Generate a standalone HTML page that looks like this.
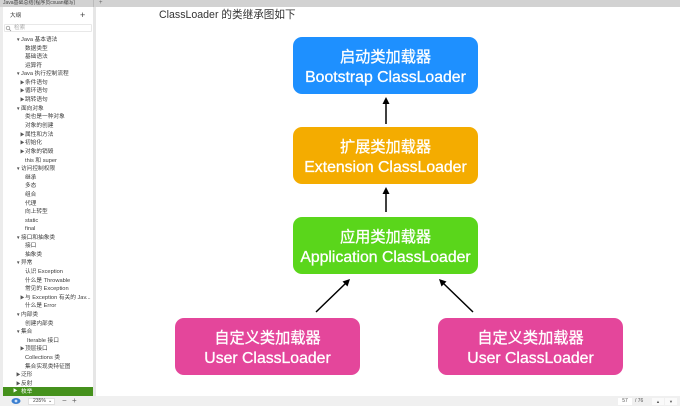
<!DOCTYPE html>
<html>
<head>
<meta charset="utf-8">
<style>
html,body{margin:0;padding:0;width:680px;height:406px;overflow:hidden;background:#fff;font-family:"Liberation Sans","Noto Sans CJK SC",sans-serif}
div{position:absolute;box-sizing:border-box}
.tab{left:0;top:0;width:680px;height:7px;background:#d2d2d2}
.side{left:0;top:7px;width:93px;height:389px;background:#fff;border-left:3px solid #ececec}
.rail{left:93px;top:7px;width:3px;height:389px;background:#e6e6e6}
.i{font-size:5.7px;line-height:8px;height:8px;white-space:nowrap;color:#3c3c3c}
.t{font-size:4.5px;color:#555;line-height:8px;height:8px}
.box{width:185px;height:57px;border-radius:9px;color:#fff;text-align:center}
.box .a{left:0;width:100%;top:11px;font-size:15.2px;line-height:20px;font-weight:400;-webkit-text-stroke:.3px #fff}
.box .b{left:0;width:100%;top:31px;font-size:15.8px;line-height:20px;font-weight:400;-webkit-text-stroke:.3px #fff}
.bar{left:0;top:396px;width:680px;height:10px;background:#f0f0f0}
</style>
</head>
<body>
<div class="tab"></div>
<div style="left:3px;top:0;font-size:5px;line-height:7px;color:#444;white-space:nowrap">Java基础总结(程序员cxuan编写)</div>
<div style="left:93px;top:0;width:1px;height:7px;background:#bbb"></div>
<div style="left:99px;top:0;font-size:6px;line-height:6px;color:#666">+</div>
<div class="side"></div>
<div class="rail"></div>
<div style="left:10px;top:12px;font-size:5.6px;line-height:8px;color:#333">大纲</div>
<div style="left:80px;top:10px;font-size:9px;line-height:10px;color:#444">+</div>
<div style="left:4px;top:24px;width:88px;height:8px;background:#fff;border:1px solid #e8e8e8;border-radius:1px"></div>
<div style="left:14px;top:24px;font-size:5.6px;line-height:8px;color:#aaa">检索</div>
<svg style="position:absolute;left:5px;top:25px" width="7" height="7"><circle cx="3" cy="3" r="1.8" fill="none" stroke="#888" stroke-width=".7"/><line x1="4.4" y1="4.4" x2="6" y2="6" stroke="#888" stroke-width=".7"/></svg>

<div style="left:0;top:1px;width:93px;height:386px">
<div class="t" style="left:16px;top:35px">▼</div><div class="i" style="left:21px;top:35px">Java 基本语法</div>
<div class="i" style="left:25px;top:43.5px">数据类型</div>
<div class="i" style="left:25px;top:52px">基础语法</div>
<div class="i" style="left:25px;top:60.5px">运算符</div>
<div class="t" style="left:16px;top:69px">▼</div><div class="i" style="left:21px;top:69px">Java 执行控制流程</div>
<div class="t" style="left:20px;top:78px">▶</div><div class="i" style="left:25px;top:78px">条件语句</div>
<div class="t" style="left:20px;top:86px">▶</div><div class="i" style="left:25px;top:86px">循环语句</div>
<div class="t" style="left:20px;top:95px">▶</div><div class="i" style="left:25px;top:95px">跳转语句</div>
<div class="t" style="left:16px;top:103.5px">▼</div><div class="i" style="left:21px;top:103.5px">面向对象</div>
<div class="i" style="left:25px;top:112px">类也是一种对象</div>
<div class="i" style="left:25px;top:121px">对象的创建</div>
<div class="t" style="left:20px;top:129.5px">▶</div><div class="i" style="left:25px;top:129.5px">属性和方法</div>
<div class="t" style="left:20px;top:138px">▶</div><div class="i" style="left:25px;top:138px">初始化</div>
<div class="t" style="left:20px;top:147px">▶</div><div class="i" style="left:25px;top:147px">对象的销毁</div>
<div class="i" style="left:25px;top:155.5px">this 和 super</div>
<div class="t" style="left:16px;top:164px">▼</div><div class="i" style="left:21px;top:164px">访问控制权限</div>
<div class="i" style="left:25px;top:172.5px">继承</div>
<div class="i" style="left:25px;top:181px">多态</div>
<div class="i" style="left:25px;top:189.5px">组合</div>
<div class="i" style="left:25px;top:198.5px">代理</div>
<div class="i" style="left:25px;top:207px">向上转型</div>
<div class="i" style="left:25px;top:215.5px">static</div>
<div class="i" style="left:25px;top:224px">final</div>
<div class="t" style="left:16px;top:233px">▼</div><div class="i" style="left:21px;top:233px">接口和抽象类</div>
<div class="i" style="left:25px;top:241px">接口</div>
<div class="i" style="left:25px;top:250px">抽象类</div>
<div class="t" style="left:16px;top:258px">▼</div><div class="i" style="left:21px;top:258px">异常</div>
<div class="i" style="left:25px;top:267px">认识 Exception</div>
<div class="i" style="left:25px;top:275.5px">什么是 Throwable</div>
<div class="i" style="left:25px;top:284px">常见的 Exception</div>
<div class="t" style="left:20px;top:293px">▶</div><div class="i" style="left:25px;top:293px">与 Exception 有关的 Jav...</div>
<div class="i" style="left:25px;top:301px">什么是 Error</div>
<div class="t" style="left:16px;top:310px">▼</div><div class="i" style="left:21px;top:310px">内部类</div>
<div class="i" style="left:25px;top:318.5px">创建内部类</div>
<div class="t" style="left:16px;top:327px">▼</div><div class="i" style="left:21px;top:327px">集合</div>
<div class="i" style="left:27px;top:336px">Iterable 接口</div>
<div class="t" style="left:20px;top:344px">▶</div><div class="i" style="left:25px;top:344px">顶层接口</div>
<div class="i" style="left:25px;top:353px">Collections 类</div>
<div class="i" style="left:25px;top:361.5px">集合实现类特征图</div>
<div class="t" style="left:16px;top:370px">▶</div><div class="i" style="left:21px;top:370px">泛形</div>
<div class="t" style="left:16px;top:378.5px">▶</div><div class="i" style="left:21px;top:378.5px">反射</div>
</div>
<div style="left:3px;top:387px;width:90px;height:9px;background:#45911c"></div>
<div class="t" style="left:13px;top:387px;color:#fff">▶</div><div class="i" style="left:21px;top:387.5px;color:#fff">枚举</div>

<div style="left:159px;top:8px;font-size:10.6px;line-height:14px;color:#333;white-space:nowrap">ClassLoader 的类继承图如下</div>

<div class="box" style="left:293px;top:37px;background:#1e90ff"><div class="a">启动类加载器</div><div class="b">Bootstrap ClassLoader</div></div>
<div class="box" style="left:293px;top:127px;background:#f4ac00"><div class="a">扩展类加载器</div><div class="b">Extension ClassLoader</div></div>
<div class="box" style="left:293px;top:217px;background:#5ad61b"><div class="a">应用类加载器</div><div class="b">Application ClassLoader</div></div>
<div class="box" style="left:175px;top:318px;background:#e4469b"><div class="a">自定义类加载器</div><div class="b">User ClassLoader</div></div>
<div class="box" style="left:438px;top:318px;background:#e4469b"><div class="a">自定义类加载器</div><div class="b">User ClassLoader</div></div>

<svg style="position:absolute;left:0;top:0" width="680" height="406">
<g stroke="#000" stroke-width="1.5" fill="none">
<line x1="386" y1="124" x2="386" y2="102"/>
<line x1="386" y1="212" x2="386" y2="192"/>
<line x1="316" y1="312" x2="346" y2="283"/>
<line x1="473" y1="312" x2="443" y2="283"/>
</g>
<g fill="#000">
<polygon points="386,97 389.5,104 382.5,104"/>
<polygon points="386,187 389.5,194 382.5,194"/>
<polygon points="350,279 347.5,286.5 342.5,281.5"/>
<polygon points="439,279 441.5,286.5 446.5,281.5"/>
</g>
</svg>

<div class="bar"></div>
<svg style="position:absolute;left:11px;top:397px" width="10" height="8"><ellipse cx="5" cy="4" rx="4.5" ry="3" fill="#3b7fd0"/><circle cx="5" cy="4" r="1.4" fill="#cfe2fa"/></svg>
<div style="left:28px;top:398px;width:27px;height:7px;background:#fff;border:1px solid #e0e0e0;font-size:5px;line-height:5px;color:#444;padding-left:4px">235%</div>
<div style="left:48px;top:398px;font-size:5px;line-height:6px;color:#444">⌄</div>
<div style="left:62px;top:397px;font-size:8px;line-height:8px;color:#666">−</div>
<div style="left:72px;top:397px;font-size:8px;line-height:8px;color:#666">+</div>
<div style="left:618px;top:398px;width:14px;height:7px;background:#fff;font-size:5px;line-height:7px;color:#555;text-align:center">57</div>
<div style="left:635px;top:398px;font-size:5px;line-height:7px;color:#555">/ 76</div>
<div style="left:652px;top:398px;width:12px;height:7px;background:#fafafa;font-size:4px;line-height:7px;color:#555;text-align:center">▲</div>
<div style="left:665px;top:398px;width:12px;height:7px;background:#fafafa;font-size:4px;line-height:7px;color:#555;text-align:center">▼</div>
</body>
</html>
